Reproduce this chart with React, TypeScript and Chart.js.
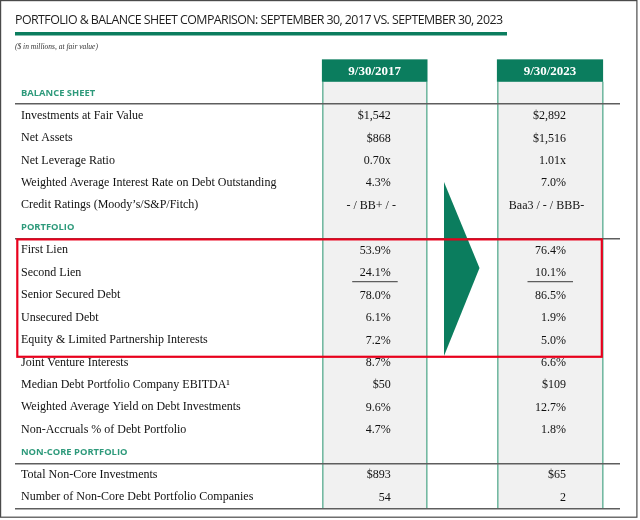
import React, { useEffect, useRef } from "react";
import { Chart, registerables } from "chart.js";

Chart.register(...registerables);

const TITLE = "PORTFOLIO & BALANCE SHEET COMPARISON: SEPTEMBER 30, 2017 VS. SEPTEMBER 30, 2023";
const SUBTITLE = "($ in millions, at fair value)";
const PERIODS = ["9/30/2017", "9/30/2023"];

const ROW_LABELS = [
  "BALANCE SHEET",
  "Investments at Fair Value",
  "Net Assets",
  "Net Leverage Ratio",
  "Weighted Average Interest Rate on Debt Outstanding",
  "Credit Ratings (Moody’s/S&P/Fitch)",
  "PORTFOLIO",
  "First Lien",
  "Second Lien",
  "Senior Secured Debt",
  "Unsecured Debt",
  "Equity & Limited Partnership Interests",
  "Joint Venture Interests",
  "Median Debt Portfolio Company EBITDA¹",
  "Weighted Average Yield on Debt Investments",
  "Non-Accruals % of Debt Portfolio",
  "NON-CORE PORTFOLIO",
  "Total Non-Core Investments",
  "Number of Non-Core Debt Portfolio Companies",
];

const SECTION_ROWS = ["BALANCE SHEET", "PORTFOLIO", "NON-CORE PORTFOLIO"];

const VALUES_2017 = ["", "$1,542", "$868", "0.70x", "4.3%", "- / BB+ / -", "", "53.9%", "24.1%", "78.0%", "6.1%", "7.2%", "8.7%", "$50", "9.6%", "4.7%", "", "$893", "54"];
const VALUES_2023 = ["", "$2,892", "$1,516", "1.01x", "7.0%", "Baa3 / - / BBB-", "", "76.4%", "10.1%", "86.5%", "1.9%", "5.0%", "6.6%", "$109", "12.7%", "1.8%", "", "$65", "2"];

const UNDERLINED_ROWS = ["Second Lien"];
const CENTERED_ROWS = ["Credit Ratings (Moody’s/S&P/Fitch)"];
const HIGHLIGHT_FIRST = "First Lien";
const HIGHLIGHT_LAST = "Equity & Limited Partnership Interests";

export default function App() {
  const ref = useRef<HTMLCanvasElement | null>(null);

  useEffect(() => {
    const canvas = ref.current;
    if (!canvas) return;

    const GREEN = "#0b7d5e";
    const SECTION_GREEN = "#2e9a7b";
    const LINE = "#5e5e5e";
    const COL_EDGE = "#74b9a2";
    const SERIF = "'Liberation Serif', 'Times New Roman', serif";
    const SANS = "'Open Sans', 'Lato', sans-serif";
    // column extents along the hidden x axis (axis units)
    const COLS: [number, number][] = [
      [307.7, 411.7],
      [482.7, 587.3],
    ];
    const EDGES = COLS.flat();
    const VALUES = [VALUES_2017, VALUES_2023];

    const isSection = (i: number) => SECTION_ROWS.includes(ROW_LABELS[i]);
    const lineRows = ROW_LABELS.map((_, i) => i).filter((i) => i > 0 && isSection(i - 1));

    const overlay = {
      id: "tableOverlay",
      afterDraw(chart: any) {
        const ctx = chart.ctx as CanvasRenderingContext2D;
        const xs = chart.scales.x;
        const ys = chart.scales.y;

        ctx.save();
        // Title
        ctx.fillStyle = "#1e1e1e";
        ctx.textBaseline = "alphabetic";
        ctx.textAlign = "left";
        ctx.font = `500 12.4px ${SANS}`;
        const targetW = 488;
        (ctx as any).letterSpacing = "0px";
        const w0 = ctx.measureText(TITLE).width;
        const ls = (targetW - w0) / (TITLE.length - 1);
        (ctx as any).letterSpacing = `${ls}px`;
        ctx.fillText(TITLE, 15, 24.2);
        (ctx as any).letterSpacing = "0px";

        // Title rule
        ctx.fillStyle = GREEN;
        ctx.fillRect(15, 32, 492, 3.5);

        // Subtitle
        ctx.fillStyle = "#333";
        ctx.font = `italic 10px ${SERIF}`;
        const sw = ctx.measureText(SUBTITLE).width;
        const ss = (10 * 83) / sw;
        ctx.font = `italic ${ss}px ${SERIF}`;
        ctx.textBaseline = "middle";
        ctx.fillText(SUBTITLE, 15, 47.5);

        // Column headers
        PERIODS.forEach((p, k) => {
          const x0 = xs.getPixelForValue(COLS[k][0]) - 0.8;
          const x1 = xs.getPixelForValue(COLS[k][1]) + 0.8;
          const yTop = ys.getPixelForValue(-1.5);
          const yBot = ys.getPixelForValue(-0.5);
          ctx.fillStyle = GREEN;
          ctx.fillRect(x0, yTop, x1 - x0, yBot - yTop);
          ctx.fillStyle = "#ffffff";
          ctx.font = `bold 13px ${SERIF}`;
          ctx.textAlign = "center";
          ctx.textBaseline = "middle";
          ctx.fillText(p, (x0 + x1) / 2, (yTop + yBot) / 2 + 1);
        });

        // Values
        ctx.fillStyle = "#111";
        ctx.font = `12px ${SERIF}`;
        ctx.textBaseline = "middle";
        VALUES.forEach((vals, k) => {
          const meta = chart.getDatasetMeta(k);
          const cx = (xs.getPixelForValue(COLS[k][0]) + xs.getPixelForValue(COLS[k][1])) / 2;
          vals.forEach((v, i) => {
            if (!v) return;
            const el = meta.data[i];
            const y = el.y + 0.5;
            if (CENTERED_ROWS.includes(ROW_LABELS[i])) {
              ctx.textAlign = "center";
              ctx.fillText(v, cx - 3.5, y);
            } else {
              ctx.textAlign = "right";
              ctx.fillText(v, cx + 16, y);
            }
            if (UNDERLINED_ROWS.includes(ROW_LABELS[i])) {
              ctx.strokeStyle = LINE;
              ctx.lineWidth = 1.2;
              ctx.beginPath();
              ctx.moveTo(cx - 22.5, el.y + 9);
              ctx.lineTo(cx + 23, el.y + 9);
              ctx.stroke();
            }
          });
        });

        // Arrow between the columns
        ctx.fillStyle = GREEN;
        ctx.beginPath();
        ctx.moveTo(xs.getPixelForValue(429), ys.getPixelForValue(3.96));
        ctx.lineTo(xs.getPixelForValue(464.5), ys.getPixelForValue(7.8));
        ctx.lineTo(xs.getPixelForValue(429), ys.getPixelForValue(11.72));
        ctx.closePath();
        ctx.fill();

        // Highlight box
        const iFirst = ROW_LABELS.indexOf(HIGHLIGHT_FIRST);
        const iLast = ROW_LABELS.indexOf(HIGHLIGHT_LAST);
        const hx0 = xs.getPixelForValue(2.3);
        const hx1 = xs.getPixelForValue(586.8);
        const hy0 = ys.getPixelForValue(iFirst - 0.48);
        const hy1 = ys.getPixelForValue(iLast + 0.75);
        ctx.strokeStyle = "#e8001c";
        ctx.lineWidth = 2.2;
        ctx.strokeRect(hx0, hy0, hx1 - hx0, hy1 - hy0);

        // Frame
        ctx.strokeStyle = "#4a4a4a";
        ctx.lineWidth = 1.2;
        ctx.strokeRect(0.6, 0.6, 636.3, 516.6);
        ctx.restore();
      },
    };

    const chart = new Chart(canvas, {
      type: "bar",
      data: {
        labels: ROW_LABELS,
        datasets: PERIODS.map((p, k) => ({
          label: p,
          data: ROW_LABELS.map(() => COLS[k]) as any,
          backgroundColor: "#f1f1f1",
          borderWidth: 0,
          borderSkipped: false,
          grouped: false,
          barPercentage: 1,
          categoryPercentage: 1,
          inflateAmount: 0.6,
        })),
      },
      options: {
        indexAxis: "y",
        responsive: false,
        animation: false,
        events: [],
        devicePixelRatio: 1,
        layout: { padding: { left: 15, right: 20, top: 81.8, bottom: 11.7 } },
        plugins: {
          legend: { display: false },
          tooltip: { enabled: false },
          title: { display: false },
        },
        scales: {
          x: {
            type: "linear",
            min: 0,
            max: 605,
            afterBuildTicks: (s: any) => {
              s.ticks = EDGES.map((v) => ({ value: v }));
            },
            afterFit: (s: any) => {
              s.height = 0;
            },
            border: { display: false },
            ticks: { display: false },
            grid: { z: 1, drawTicks: false, color: COL_EDGE, lineWidth: 1.6 },
          },
          y: {
            type: "category",
            offset: true,
            afterFit: (s: any) => {
              s.width = 0;
            },
            border: { display: false },
            grid: {
              z: 2,
              offset: true,
              drawTicks: false,
              lineWidth: 1.5,
              color: (c: any) =>
                c.type !== "tick" || lineRows.includes(c.index) ? LINE : "rgba(0,0,0,0)",
            },
            ticks: {
              z: 3,
              mirror: true,
              padding: 6,
              autoSkip: false,
              color: (c: any) => (isSection(c.index) ? SECTION_GREEN : "#111111"),
              font: (c: any) =>
                isSection(c.index)
                  ? { family: SANS, size: 9.4, weight: "bold" }
                  : { family: SERIF, size: 12, weight: "normal" },
            },
          },
        },
      },
      plugins: [overlay],
    });

    return () => chart.destroy();
  }, []);

  return (
    <div style={{ position: "fixed", left: 0, top: 0, width: 640, height: 520, background: "#fff" }}>
      <canvas ref={ref} width={640} height={520} style={{ width: 640, height: 520, display: "block" }} />
    </div>
  );
}
